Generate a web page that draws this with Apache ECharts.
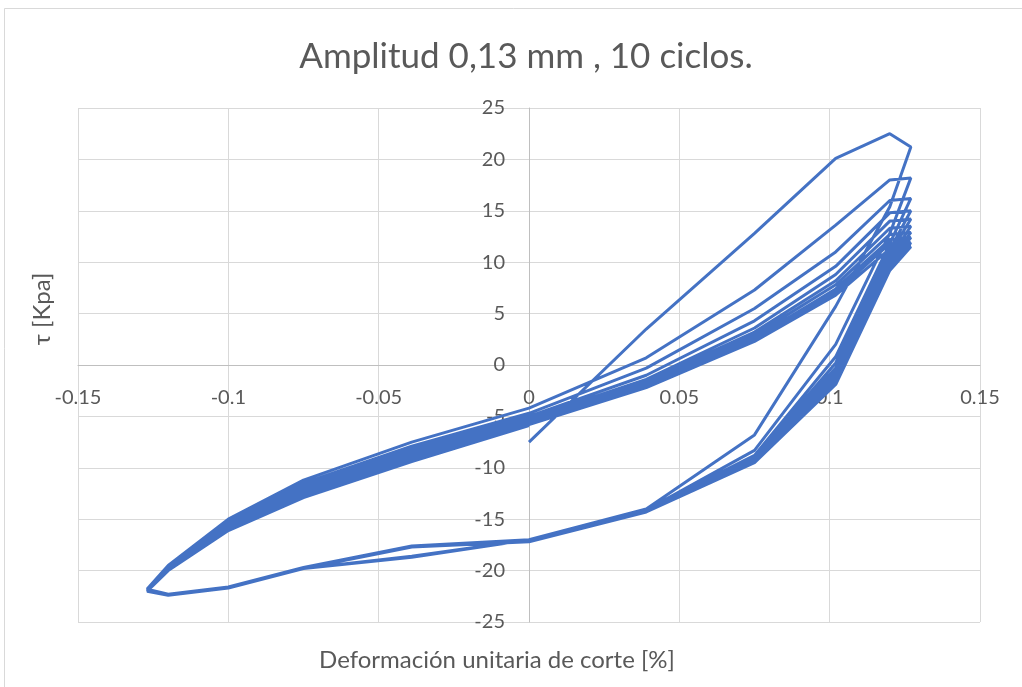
<!DOCTYPE html>
<html>
<head>
<meta charset="utf-8">
<script src="https://cdn.jsdelivr.net/npm/echarts@6/dist/echarts.min.js"></script>
<style>
html,body{margin:0;padding:0;background:#fff;}
#chart{width:1022px;height:687px;}
</style>
</head>
<body>
<div id="chart"></div>
<script>
// Strain positions sampled within one cycle [%]
const strainStep = [0, 0.039, 0.075, 0.102, 0.120, 0.127, 0.120, 0.102, 0.075, 0.039,
                    0, -0.039, -0.075, -0.100, -0.120, -0.127, -0.120, -0.100, -0.075, -0.039];

// Shear stress [kPa] for each of the 10 cycles
const cycle1  = [-7.5, 3.5, 12.8, 20.1, 22.5, 21.2, 15.4, 5.7, -6.8, -14.0, -17.0, -18.7, -19.8, -21.7, -22.4, -21.8, -19.5, -15.0, -11.2, -7.5];
const cycle2  = [-4.2, 0.7, 7.3, 13.6, 18.0, 18.2, 12.8, 2.0, -8.3, -14.1, -17.0, -18.6, -19.8, -21.7, -22.4, -21.8, -19.6, -15.2, -11.5, -7.9];
const cycle3  = [-4.7, -0.3, 5.5, 11.0, 16.0, 16.2, 11.8, 0.8, -8.8, -14.1, -17.0, -17.6, -19.7, -21.6, -22.3, -21.8, -19.6, -15.4, -11.8, -8.2];
const cycle4  = [-5.0, -1.0, 4.3, 9.6, 14.8, 15.0, 11.2, 0.2, -9.0, -14.2, -17.0, -17.6, -19.7, -21.6, -22.3, -21.8, -19.7, -15.5, -12.0, -8.5];
const cycle5  = [-5.2, -1.4, 3.6, 8.8, 14.0, 14.2, 10.8, -0.3, -9.1, -14.2, -17.1, -17.6, -19.7, -21.6, -22.3, -21.9, -19.8, -15.6, -12.2, -8.7];
const cycle6  = [-5.3, -1.6, 3.2, 8.2, 13.3, 13.5, 10.4, -0.7, -9.2, -14.2, -17.1, -17.6, -19.7, -21.6, -22.3, -21.9, -19.8, -15.7, -12.4, -8.9];
const cycle7  = [-5.5, -1.8, 2.9, 7.8, 12.7, 12.9, 10.1, -1.0, -9.3, -14.2, -17.1, -17.6, -19.7, -21.7, -22.3, -21.9, -19.9, -15.8, -12.5, -9.0];
const cycle8  = [-5.6, -2.0, 2.6, 7.4, 12.2, 12.4, 9.8, -1.3, -9.4, -14.3, -17.1, -17.6, -19.8, -21.7, -22.4, -22.0, -19.9, -15.9, -12.6, -9.2];
const cycle9  = [-5.7, -2.1, 2.4, 7.1, 11.8, 11.9, 9.5, -1.6, -9.4, -14.3, -17.1, -17.6, -19.8, -21.7, -22.4, -22.0, -20.0, -16.0, -12.8, -9.3];
const cycle10 = [-5.8, -2.2, 2.3, 6.8, 11.3, 11.5, 9.2, -1.9, -9.5, -14.3, -17.2, -17.7, -19.8, -21.7, -22.4, -22.0, -20.0, -16.1, -12.9, -9.4];
const finalPoint = [0, -5.9];

const xTicks = [-0.15, -0.1, -0.05, 0, 0.05, 0.1, 0.15];
const yTicks = [-25, -20, -15, -10, -5, 0, 5, 10, 15, 20, 25];

const titleText = 'Amplitud 0,13 mm , 10 ciclos.';
const xName = 'Deformación unitaria de corte [%]';
const yName = 'τ [Kpa]';

const cycles = [cycle1, cycle2, cycle3, cycle4, cycle5, cycle6, cycle7, cycle8, cycle9, cycle10];
const points = [];
cycles.forEach(c => c.forEach((v, i) => points.push([strainStep[i], v])));
points.push(finalPoint);

const W = 1022, H = 687;
const G = {left: 78, right: 42, top: 108, bottom: 65};
const gridW = W - G.left - G.right, gridH = H - G.top - G.bottom;
const xMin = xTicks[0], xMax = xTicks[xTicks.length - 1];
const yMin = yTicks[0], yMax = yTicks[yTicks.length - 1];
// move the axes (line + labels) onto the zero lines, as in the original
const xOffset = -gridH * (0 - yMin) / (yMax - yMin);
const yOffset = -gridW * (0 - xMin) / (xMax - xMin);

const FONT = "Lato, 'Open Sans', sans-serif";
const lbl = (ticks) => v => { const t = ticks.find(k => Math.abs(k - v) < 1e-9); return t === undefined ? '' : String(t); };
const chart = echarts.init(document.getElementById('chart'));
chart.setOption({
  animation: false,
  backgroundColor: '#ffffff',
  grid: Object.assign({containLabel: false}, G),
  xAxis: {
    type: 'value', min: xMin, max: xMax, interval: 0.05, position: 'bottom', offset: xOffset,
    axisLine: {show: true, onZero: false, lineStyle: {color: '#bfbfbf', width: 1}},
    axisTick: {show: false},
    splitLine: {show: true, lineStyle: {color: '#d9d9d9', width: 1}},
    axisLabel: {margin: 23, color: '#595959', fontSize: 20, fontFamily: FONT, formatter: lbl(xTicks)}
  },
  yAxis: {
    type: 'value', min: yMin, max: yMax, interval: 5, position: 'left', offset: yOffset,
    axisLine: {show: true, onZero: false, lineStyle: {color: '#bfbfbf', width: 1}},
    axisTick: {show: false},
    splitLine: {show: true, lineStyle: {color: '#d9d9d9', width: 1}},
    axisLabel: {margin: 24, color: '#595959', fontSize: 20, fontFamily: FONT, formatter: lbl(yTicks)}
  },
  series: [{
    type: 'line', data: points, showSymbol: false, symbol: 'none',
    lineStyle: {color: '#4472C4', width: 3}, clip: false, z: 5
  }],
  graphic: [
    {type: 'rect', silent: true, shape: {x: 4.5, y: 8.5, width: 1040, height: 700},
     style: {fill: 'none', stroke: '#d9d9d9', lineWidth: 1}},
    {type: 'text', x: 526, y: 57, style: {text: titleText, fontSize: 35, fill: '#595959', fontFamily: FONT, align: 'center', verticalAlign: 'middle'}},
    {type: 'text', x: 497, y: 660, style: {text: xName, fontSize: 24, fill: '#595959', fontFamily: FONT, align: 'center', verticalAlign: 'middle'}},
    {type: 'text', x: 42, y: 309, rotation: Math.PI / 2, style: {text: yName, fontSize: 24, fill: '#595959', fontFamily: FONT, align: 'center', verticalAlign: 'middle'}}
  ]
});
</script>
</body>
</html>
